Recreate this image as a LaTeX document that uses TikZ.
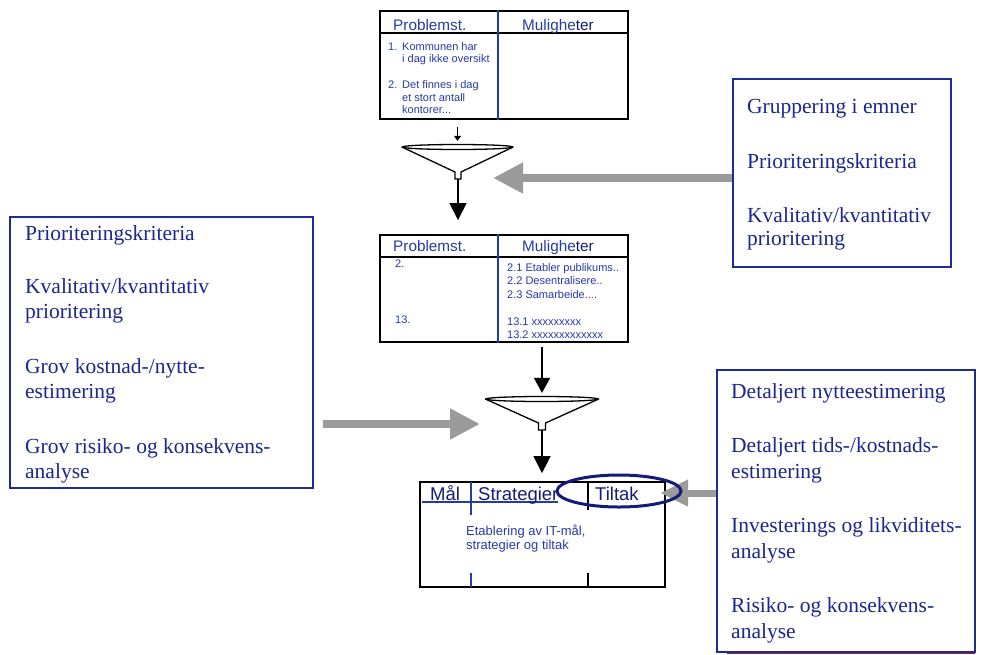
\documentclass[tikz,border=0pt]{standalone}
\usepackage{fontspec}
\setmainfont{Liberation Serif}
\setsansfont{Liberation Sans}
\usetikzlibrary{arrows.meta,shapes.geometric,calc}
\definecolor{ink}{RGB}{28,38,140}
\definecolor{tblue}{RGB}{38,58,168}
\definecolor{tdark}{RGB}{20,28,120}
\definecolor{frame}{RGB}{30,45,150}
\definecolor{arrowgray}{RGB}{155,155,155}
\definecolor{shadowred}{RGB}{150,40,40}

\begin{document}
\begin{tikzpicture}[x=1pt,y=-1pt,
  listbox/.style={draw=frame,line width=1.6pt,inner sep=0pt},
  itemline/.style={anchor=base west,inner sep=0pt,text=ink,font=\fontsize{21.5}{23}\selectfont},
  tbl/.style={draw=black,line width=1.8pt,inner sep=0pt},
  headtext/.style={anchor=base west,inner sep=0pt,text=tblue,font=\sffamily\fontsize{15.3}{17}\selectfont},
  celltext/.style={anchor=base west,inner sep=0pt,text=tblue,font=\sffamily\fontsize{11}{12}\selectfont},
  bighead/.style={anchor=base west,inner sep=0pt,text=tdark,font=\sffamily\fontsize{18.5}{20}\selectfont},
  bodytext/.style={anchor=base west,inner sep=0pt,text=tblue,font=\sffamily\fontsize{13}{14}\selectfont},
  funneltop/.style={ellipse,draw=black,line width=1.3pt,inner sep=0pt},
  funnelside/.style={draw=black,line width=1.3pt},
  stem/.style={draw=black,line width=1.5pt,-{Triangle[length=17pt,width=17pt]}},
  smallstem/.style={draw=black,line width=1.2pt,-{Triangle[length=5pt,width=7pt]}},
  grayarrow/.style={draw=arrowgray,line width=8pt,-{Triangle[length=30pt,width=29pt]}},
  divider/.style={draw=tblue,line width=1.5pt}]

\useasboundingbox (0,0) rectangle (990,654);

% ---------- first table: Problemst. / Muligheter ----------
\node[tbl,minimum width=248pt,minimum height=108pt] (t1) at (504,65) {};
\draw[black,line width=1.3pt] (t1.west |- 0,33) -- (t1.east |- 0,33);
\draw[divider] (t1.north -| 498,0) -- (t1.south -| 498,0);
\node[headtext] (t1h1) at (393,30) {Problemst.};
\node[headtext] (t1h2) at (522,30) {Mulighe\textcolor{tdark}{ter}};
\node[celltext] (t1a) at (388,50) {1.};
\node[celltext] (t1b) at (402,50) {Kommunen har};
\node[celltext] (t1c) at (402,62) {i dag ikke oversikt};
\node[celltext] (t1d) at (388,88.5) {2.};
\node[celltext] (t1e) at (402,88.5) {Det finnes i dag};
\node[celltext] (t1f) at (402,101) {et stort antall};
\node[celltext] (t1g) at (402,113.5) {kontorer...};

% ---------- first funnel ----------
\node[funneltop,minimum width=110pt,minimum height=5pt] (f1) at (457.5,147) {};
\draw[funnelside] (f1.west) -- (455,172) -- (455,179) -- (461,179) -- (461,172) -- (f1.east);
\coordinate (n1) at (458,179);
\draw[smallstem] ($(t1.south -| f1.north)+(0,7)$) -- ($(f1.north)+(0,-3)$);

% ---------- second table ----------
\node[tbl,minimum width=248pt,minimum height=107pt] (t2) at (504,288.5) {};
\draw[black,line width=1.3pt] (t2.west |- 0,257) -- (t2.east |- 0,257);
\draw[divider] (t2.north -| 498,0) -- (t2.south -| 498,0);
\node[headtext] (t2h1) at (393,251) {Problemst.};
\node[headtext] (t2h2) at (522,251) {Mulighe\textcolor{tdark}{ter}};
\node[celltext] (t2a) at (395,267) {2.};
\node[celltext] (t2b) at (395,323) {13.};
\node[celltext] (t2c) at (507,271) {2.1 Etabler publikums..};
\node[celltext] (t2d) at (507,284.5) {2.2 Desentralisere..};
\node[celltext] (t2e) at (507,298) {2.3 Samarbeide....};
\node[celltext] (t2f) at (507,325) {13.1 xxxxxxxxx};
\node[celltext] (t2g) at (507,338) {13.2 xxxxxxxxxxxxx};

\draw[stem] (n1) -- ($(t2.north -| n1)+(0,-14)$);

% ---------- second funnel ----------
\node[funneltop,minimum width=112pt,minimum height=5pt] (f2) at (542,399) {};
\draw[funnelside] (f2.west) -- (538.5,423) -- (538.5,430) -- (545.5,430) -- (545.5,423) -- (f2.east);
\coordinate (n2) at (542,430);
\draw[stem,-{Triangle[length=15pt,width=16pt]}] ($(t2.south -| f2.north)+(0,4)$) -- ($(f2.north)+(0,-3)$);

% ---------- result table: Mål / Strategier / Tiltak ----------
\node[tbl,minimum width=245pt,minimum height=105pt] (t3) at (542.5,534.5) {};
\draw[stem] (n2) -- ($(t3.north -| n2)+(0,-8)$);
\draw[divider] (422,502) -- (558,502);
\draw[divider] (471,482) -- (471,515);
\draw[divider] (471,573) -- (471,587);
\draw[black,line width=1.5pt] (588,482) -- (588,510);
\draw[black,line width=1.5pt] (588,573) -- (588,587);
\node[bighead] (t3h1) at (430,500) {Mål};
\node[bighead] (t3h2) at (478,500) {Strategier};
\node[bighead] (t3h3) at (595,500) {Tiltak};
\node[bodytext] (t3a) at (466,535) {Etablering av IT-mål,};
\node[bodytext] (t3b) at (466,549.5) {strategier og tiltak};

% ---------- upper right list ----------
\node[listbox,minimum width=218pt,minimum height=188pt] (ba) at (842,173) {};
\node[itemline] (ba1) at (747,113) {Gruppering i emner};
\node[itemline] (ba2) at (747,168) {Prioriteringskriteria};
\node[itemline] (ba3) at (747,222) {Kvalitativ/kvantitativ};
\node[itemline] (ba4) at (747,245) {prioritering};
\coordinate (ga1) at (493,178);
\draw[grayarrow] (ba.west |- ga1) -- (ga1);

% ---------- left list ----------
\node[listbox,minimum width=303pt,minimum height=271pt] (bl) at (161.5,352.5) {};
\node[itemline] (bl1) at (25,240) {Prioriteringskriteria};
\node[itemline] (bl2) at (25,293) {Kvalitativ/kvantitativ};
\node[itemline] (bl3) at (25,318) {prioritering};
\node[itemline] (bl4) at (25,373) {Grov kostnad-/nytte-};
\node[itemline] (bl5) at (25,398) {estimering};
\node[itemline] (bl6) at (25,453) {Grov risiko- og konsekvens-};
\node[itemline] (bl7) at (25,478) {analyse};
\coordinate (ga2s) at (323,424);
\coordinate (ga2) at (480,424);
\draw[grayarrow] (ga2s) -- (ga2);

% ---------- lower right list ----------
\node[listbox,minimum width=258pt,minimum height=282pt] (bc) at (846,511) {};
\draw[shadowred,line width=1pt] (727,653.5) -- (975,653.5);
\node[itemline] (bc1) at (731,398) {Detaljert nytteestimering};
\node[itemline] (bc2) at (731,452) {Detaljert tids-/kostnads-};
\node[itemline] (bc3) at (731,478) {estimering};
\node[itemline] (bc4) at (731,532) {Investerings og likviditets-};
\node[itemline] (bc5) at (731,558) {analyse};
\node[itemline] (bc6) at (731,612) {Risiko- og konsekvens-};
\node[itemline] (bc7) at (731,638) {analyse};
\coordinate (ga3) at (660,493);
\draw[grayarrow,line width=7pt,-{Triangle[length=28pt,width=25pt]}] (bc.west |- ga3) -- (ga3);

% ---------- highlight round the Tiltak column ----------
\node[ellipse,draw=tdark,line width=3pt,minimum width=124pt,minimum height=32pt,inner sep=0pt] (oval) at (619,491) {};

\end{tikzpicture}
\end{document}
